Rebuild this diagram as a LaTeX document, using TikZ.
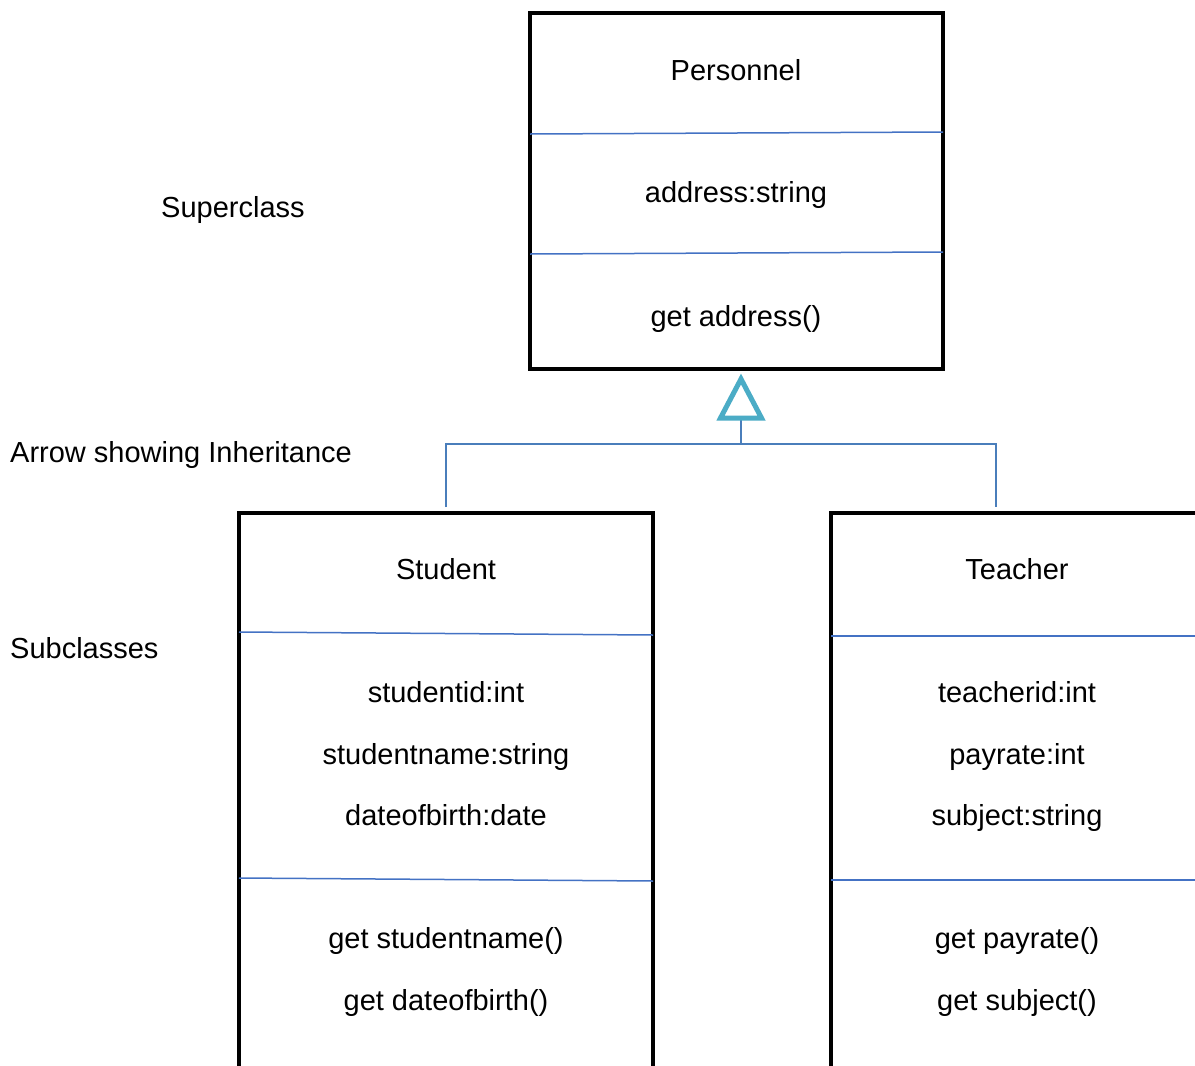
\documentclass[tikz,border=0pt]{standalone}
\usepackage{fontspec}
\setmainfont{Liberation Sans}
\definecolor{sepblue}{RGB}{68,114,196}
\definecolor{connblue}{RGB}{74,126,187}
\definecolor{tricol}{RGB}{75,172,198}
\begin{document}
\begin{tikzpicture}[x=1pt,y=-1pt,
  cls/.style={draw=black,line width=4.5pt,inner sep=0pt,fill=white},
  sepline/.style={draw=sepblue,line width=1.5pt},
  conn/.style={draw=connblue,line width=2pt},
  txt/.style={font=\fontsize{29}{35}\selectfont,inner sep=0pt,anchor=base},
  lbl/.style={font=\fontsize{29}{35}\selectfont,inner sep=0pt,anchor=base west},
]
\useasboundingbox (0,0) rectangle (1195,1066);
\clip (0,0) rectangle (1195,1066);
\fill[white] (0,0) rectangle (1195,1066);

% boxes
\node[cls,minimum width=413pt,minimum height=356pt] (per) at (736.5,191) {};
\node[cls,minimum width=414pt,minimum height=607pt] (stu) at (446,816.5) {};
\node[cls,minimum width=419pt,minimum height=607pt] (tea) at (1040.5,816.5) {};

% dividers
\draw[sepline] (530,134) -- (943,132);
\draw[sepline] (530,254) -- (943,252);
\draw[sepline] (239,632) -- (653,635);
\draw[sepline] (239,878) -- (653,881);
\draw[sepline] (831,636) -- (1195,636);
\draw[sepline] (831,880) -- (1195,880);

% texts superclass
\node[txt] (pn) at (736,80) {Personnel};
\node[txt] (pa) at (736,202) {address:string};
\node[txt] (pm) at (736,326) {get address()};

% student
\node[txt] (sn) at (446,579) {Student};
\node[txt] (sa1) at (446,702) {studentid:int};
\node[txt] (sa2) at (446,764) {studentname:string};
\node[txt] (sa3) at (446,825) {dateofbirth:date};
\node[txt] (sm1) at (446,948) {get studentname()};
\node[txt] (sm2) at (446,1010) {get dateofbirth()};

% teacher
\node[txt] (tn) at (1017,579) {Teacher};
\node[txt] (ta1) at (1017,702) {teacherid:int};
\node[txt] (ta2) at (1017,764) {payrate:int};
\node[txt] (ta3) at (1017,825) {subject:string};
\node[txt] (tm1) at (1017,948) {get payrate()};
\node[txt] (tm2) at (1017,1010) {get subject()};

% side labels
\node[lbl] (l1) at (161,217) {Superclass};
\node[lbl] (l2) at (10,462) {Arrow showing Inheritance};
\node[lbl] (l3) at (10,658) {Subclasses};

% inheritance connector
\coordinate (tri) at (741,419);
\coordinate (j) at (741,444);
\coordinate (sj) at (446,507);
\coordinate (tj) at (996,507);
\draw[conn] (sj) |- (j) -| (tj);
\draw[conn] (j) -- (tri);
\draw[draw=tricol,line width=5pt,line join=miter] (741,379) -- (761.5,418) -- (720.5,418) -- cycle;
\end{tikzpicture}
\end{document}
